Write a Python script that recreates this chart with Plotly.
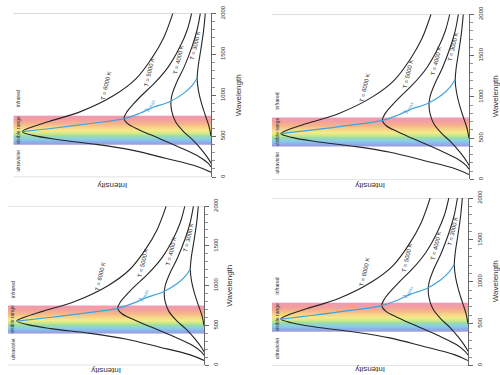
import plotly.graph_objects as go

# ---------------- data ----------------
wl_6000 = [60, 130, 230, 330, 400, 460, 510, 555, 600, 680, 800, 1000, 1200, 1450, 1700, 2000]
int_6000 = [0, 7, 23, 40, 58, 78, 90, 95.5, 92, 82, 66, 49, 38, 30, 24, 19.3]

wl_5000 = [125, 170, 250, 360, 480, 580, 650, 715, 800, 900, 1000, 1150, 1350, 1600, 1800, 2000]
int_5000 = [0, 1.5, 6, 15.5, 27, 36.5, 42, 44, 42.5, 39, 35, 28.5, 21.5, 15.5, 12, 9.8]

wl_4000 = [170, 220, 330, 450, 560, 680, 800, 900, 1000, 1150, 1350, 1600, 1800, 2000]
int_4000 = [0, 1.2, 4.6, 9, 14, 18, 19.8, 20.3, 19.8, 17.5, 13.5, 9.5, 7, 5.4]

wl_3000 = [500, 620, 750, 900, 1050, 1200, 1350, 1550, 1780, 2000]
int_3000 = [0, 1, 2.8, 4.8, 6.3, 7.0, 6.5, 5.2, 3.8, 2.9]

wl_peak = [555, 600, 655, 715, 780, 850, 920, 1020, 1120, 1210]
int_peak = [95.5, 79, 61, 44, 36, 29.5, 21, 14, 9.5, 7]

curve_names = ["T = 6000 K", "T = 5000 K", "T = 4000 K", "T = 3000 K"]
label_wl = [1110, 1280, 1430, 1600]
label_int = [53, 31, 16.5, 8]

peak_label_wl = 880
peak_label_int = 31

region_names = ["ultraviolet", "visible range", "infrared"]
region_wl = [205, 575, 955]
region_int = 97.5

band_wl = [400, 430, 470, 505, 530, 565, 600, 650, 700, 750]
band_colors = ["#a497d8", "#8aafec", "#8ad0e8", "#9adca4", "#c6e88a",
               "#f3ec8a", "#f8d888", "#f6b58a", "#f39f9e", "#f297b4"]

tick_vals = [0, 500, 1000, 1500, 2000]
tick_text = ["0", "500", "1000", "1500", "2000"]

# ---------------- layout geometry (pixels) ----------------
W, H = 500, 375
# left (I=100), right axis (I=0), top (2000), bottom (0)
panels = [
    (13.3, 211, 5.5, 173.3),
    (272, 469, 6.4, 175.7),
    (8, 204, 203, 366),
    (272, 468, 194.7, 366.3),
]
wave_title_x = [238, 495.5, 230, 495.5]
int_title_y = [181.7, 181.7, 372, 371]

FONT = "Liberation Sans Narrow, Liberation Sans, Arial, sans-serif"
TXT = "#333333"

band_edges = list(range(400, 755, 5))
band_z = [[(band_edges[i] + band_edges[i + 1]) / 2] for i in range(len(band_edges) - 1)]
cscale = [[(w - band_wl[0]) / (band_wl[-1] - band_wl[0]), c] for w, c in zip(band_wl, band_colors)]

fig = go.Figure()
annotations = []
shapes = []
layout_axes = {}

curves = [(wl_6000, int_6000), (wl_5000, int_5000), (wl_4000, int_4000), (wl_3000, int_3000)]

for k, (L, R, T, B) in enumerate(panels):
    n = "" if k == 0 else str(k + 1)
    xa, ya = "x" + n, "y" + n
    xdom = [L / W, R / W]
    ydom = [1 - B / H, 1 - T / H]

    fig.add_trace(go.Heatmap(
        x=[0, 100], y=band_edges, z=band_z, colorscale=cscale,
        zmin=400, zmax=750, showscale=False, hoverinfo="skip",
        xaxis=xa, yaxis=ya))

    for wl, it in curves:
        fig.add_trace(go.Scatter(
            x=it, y=wl, mode="lines", line=dict(color="#262626", width=1.1, shape="spline", smoothing=1),
            hoverinfo="skip", showlegend=False, xaxis=xa, yaxis=ya))

    fig.add_trace(go.Scatter(
        x=int_peak, y=wl_peak, mode="lines", line=dict(color="#3fa3dc", width=1.2, shape="spline", smoothing=1),
        hoverinfo="skip", showlegend=False, xaxis=xa, yaxis=ya))

    layout_axes["xaxis" + n] = dict(domain=xdom, range=[100, 0], visible=False,
                                    anchor=ya, fixedrange=True)
    layout_axes["yaxis" + n] = dict(
        domain=ydom, range=[0, 2000], side="right", anchor=xa,
        showgrid=False, zeroline=False, showline=True, linecolor="#666666", linewidth=1,
        ticks="outside", ticklen=4, tickcolor="#666666", tickwidth=1,
        tickvals=tick_vals, ticktext=tick_text, tickangle=-90,
        tickfont=dict(family=FONT, size=6, color=TXT), ticklabelstandoff=2,
        minor=dict(dtick=100, ticks="outside", ticklen=3, tickcolor="#777777", tickwidth=0.8),
        fixedrange=True)

    # top & bottom frame lines
    for yv in (0, 2000):
        shapes.append(dict(type="line", xref=xa, yref=ya, x0=100, x1=0, y0=yv, y1=yv,
                           line=dict(color="#c8c8c8", width=1), layer="below"))

    # curve labels
    for name, lw, li in zip(curve_names, label_wl, label_int):
        annotations.append(dict(xref=xa, yref=ya, x=li, y=lw, text=name, showarrow=False,
                                textangle=-77, font=dict(family=FONT, size=6, color=TXT)))
    annotations.append(dict(xref=xa, yref=ya, x=peak_label_int, y=peak_label_wl,
                            text="λ<sub>max</sub>", showarrow=False, textangle=-67,
                            font=dict(family=FONT, size=7, color="#3fa3dc")))
    for name, rw in zip(region_names, region_wl):
        annotations.append(dict(xref=xa, yref=ya, x=region_int, y=rw, text=name, showarrow=False,
                                textangle=-90, font=dict(family=FONT, size=5, color=TXT)))

    # axis titles
    annotations.append(dict(xref="paper", yref="paper", x=wave_title_x[k] / W, y=1 - (T + B) / 2 / H,
                            text="Wavelength", showarrow=False, textangle=-90,
                            xanchor="center", yanchor="middle",
                            font=dict(family=FONT, size=8, color=TXT)))
    annotations.append(dict(xref="paper", yref="paper", x=(L + R) / 2 / W, y=1 - int_title_y[k] / H,
                            text="Intensity", showarrow=False, textangle=180,
                            xanchor="center", yanchor="middle",
                            font=dict(family=FONT, size=8, color=TXT)))

fig.update_layout(
    width=W, height=H, margin=dict(l=0, r=0, t=0, b=0),
    paper_bgcolor="white", plot_bgcolor="rgba(0,0,0,0)",
    showlegend=False, annotations=annotations, shapes=shapes,
    **layout_axes)

fig.write_html("out.html", config={"displayModeBar": False, "staticPlot": True},
               post_script="document.body.style.margin='0';document.body.style.overflow='hidden';")
